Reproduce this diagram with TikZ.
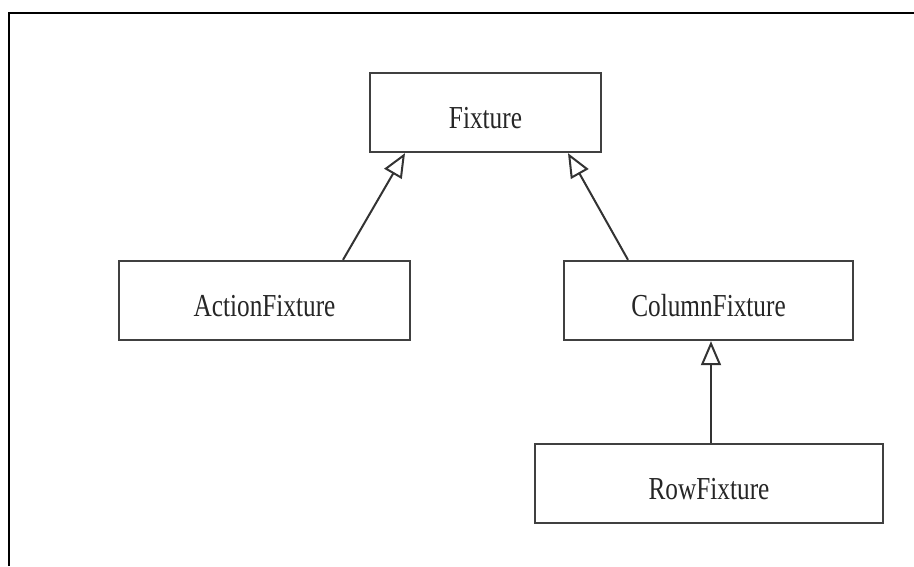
\documentclass[tikz,border=0pt]{standalone}
\usepackage{fontspec}
\setmainfont{Liberation Serif}[FakeStretch=0.79]
\usetikzlibrary{arrows.meta}
\begin{document}
\begin{tikzpicture}[x=1pt,y=-1pt,
  classbox/.style={draw=black!75, line width=2.3pt, fill=white, inner sep=0pt,
    minimum height=79pt, text height=32pt, text depth=0pt,
    font=\fontsize{32}{38}\selectfont, text=black!85},
  inherit/.style={draw=black!80, line width=2pt,
    -{Triangle[length=24pt, width=20pt, fill=white, line width=2pt]}}]
  \useasboundingbox (0,0) rectangle (914,566);
  % page frame
  \draw[line width=2.6pt] (9,566) -- (9,13) -- (914,13);
  % classes
  \node[classbox, minimum width=231pt] (fix) at (485.5,112.5) {Fixture};
  \node[classbox, minimum width=291pt] (act) at (264.5,300.5) {ActionFixture};
  \node[classbox, minimum width=289pt] (col) at (708.5,300.5) {ColumnFixture};
  \node[classbox, minimum width=348pt] (row) at (709,483.5) {RowFixture};
  % generalisations
  \draw[inherit] ([xshift=78.5pt]act.north) -- ([xshift=-80.5pt]fix.south);
  \draw[inherit] ([xshift=-80.5pt]col.north) -- ([xshift=82.5pt]fix.south);
  \draw[inherit] ([xshift=2pt]row.north) -- ([xshift=2pt]row.north |- col.south);
\end{tikzpicture}
\end{document}
